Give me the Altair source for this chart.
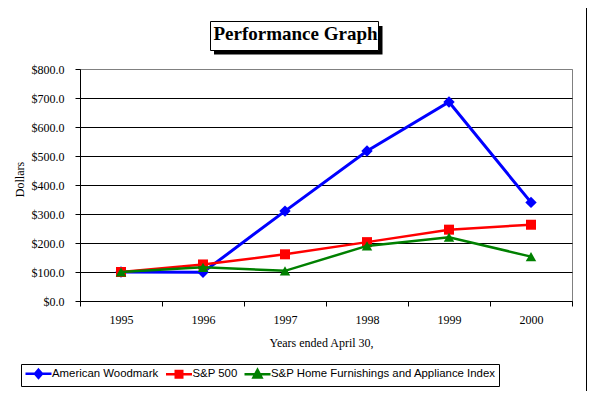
import altair as alt
import pandas as pd

years = ["1995", "1996", "1997", "1998", "1999", "2000"]
series_names = ["American Woodmark", "S&P 500", "S&P Home Furnishings and Appliance Index"]
woodmark = [100, 99, 310, 517, 686, 340]
sp500 = [100, 126, 161, 203, 246, 263]
home = [100, 116, 104, 190, 220, 153]
colors = ["#0000FF", "#FF0000", "#008000"]
shapes = ["diamond", "square", "triangle-up"]
# legend glyphs: a line with the series marker (unit = 5px)
legend_paths = [
    "M-2.6,0H2.6M0,-0.8L0.7,0L0,0.8L-0.7,0Z",
    "M-2.6,0H2.6M-0.65,-0.65H0.65V0.65H-0.65Z",
    "M-2.6,0H2.6M0,-0.85L0.8,0.65H-0.8Z",
]
y_ticks = [0, 100, 200, 300, 400, 500, 600, 700, 800]

rows = []
for name, vals in zip(series_names, [woodmark, sp500, home]):
    for yr, v in zip(years, vals):
        rows.append({"year": yr, "series": name, "value": v})
df = pd.DataFrame(rows)

W, H = 492, 232
SERIF = "Liberation Serif"
SANS = "Liberation Sans"

x_enc = alt.X(
    "year:O",
    scale=alt.Scale(type="band", domain=years, paddingInner=0, paddingOuter=0),
    bandPosition=0.5,
    title="Years ended April 30,",
    axis=alt.Axis(
        labelAngle=0, tickBand="extent", grid=False,
        domainColor="black", tickColor="black", tickSize=5,
        labelFont=SERIF, labelFontSize=12, labelColor="black",
        labelBaseline="alphabetic", labelPadding=17.5,
        titleFont=SERIF, titleFontSize=12, titleFontWeight="normal", titleColor="black",
        titleX=241, titleY=45.5, titleBaseline="alphabetic",
    ),
)
y_enc = alt.Y(
    "value:Q",
    scale=alt.Scale(domain=[0, 800], nice=False),
    title="Dollars",
    axis=alt.Axis(
        values=y_ticks, format="$.1f", grid=True,
        gridColor={"condition": {"test": "datum.value >= 800", "value": "#808080"}, "value": "black"},
        gridWidth=1, domainColor="black", tickColor="black", tickSize=5,
        labelFont=SERIF, labelFontSize=12, labelColor="black", labelPadding=11,
        titleFont=SERIF, titleFontSize=12, titleFontWeight="normal", titleColor="black",
        titleX=-57, titleY=110, titleBaseline="alphabetic", titleAngle=270,
    ),
)

one = alt.InlineData(values=[{"a": 1}])


def vrect(x1, x2, y1, y2, **kw):
    return alt.Chart(one).mark_rect(**kw).encode(
        x=alt.value(x1), x2=alt.value(x2), y=alt.value(y1), y2=alt.value(y2)
    )


layers = []
# black frame strip (right edge of the outer border, as far as the page allows)
layers.append(vrect(506, 520, -61, 330, color="black"))
layers.append(vrect(-72, 520, 322, 330, color="black"))
# title box with shadow
layers.append(vrect(134, 302.5, -43, -14.5, color="black"))
layers.append(vrect(130.5, 298.5, -47.5, -18.5, fill="white", stroke="black", strokeWidth=1))
layers.append(
    alt.Chart(one).mark_text(
        text="Performance Graph", font=SERIF, fontSize=19, fontWeight="bold",
        baseline="alphabetic", align="center", color="black",
    ).encode(x=alt.value(215.5), y=alt.value(-29.5))
)

widths = [3, 2.5, 2.5]
sizes = [130, 100, 110]
for name, c, shp, sw, sz in zip(series_names, colors, shapes, widths, sizes):
    base = alt.Chart(df).transform_filter(alt.datum.series == name)
    layers.append(base.mark_line(color=c, strokeWidth=sw).encode(x=x_enc, y=y_enc))
    layers.append(
        base.mark_point(shape=shp, filled=True, color=c, size=sz, opacity=1).encode(x=x_enc, y=y_enc)
    )

leg = alt.Legend(
    orient="none", legendX=-59, legendY=295, direction="horizontal",
    fillColor="white", strokeColor="black", padding=3,
    symbolSize=100, symbolStrokeWidth=2.5, symbolOffset=8,
    labelFont=SANS, labelFontSize=11.4, labelColor="black", labelOffset=7,
    columnPadding=1.5, labelLimit=400, cornerRadius=0,
)
legend_layer = alt.Chart(df).transform_filter("false").mark_point(
    filled=True, strokeWidth=2.5, size=100, opacity=1
).encode(
    fill=alt.Fill("series:N", scale=alt.Scale(domain=series_names, range=colors), legend=leg, title=None),
    stroke=alt.Stroke("series:N", scale=alt.Scale(domain=series_names, range=colors), legend=leg, title=None),
    shape=alt.Shape("series:N", scale=alt.Scale(domain=series_names, range=legend_paths), legend=leg, title=None),
)
layers.append(legend_layer)

chart = alt.layer(*layers).properties(
    width=W, height=H,
    autosize=alt.AutoSizeParams(type="none"),
    padding={"left": 72, "top": 61, "right": 15, "bottom": 90},
).configure(background="white").configure_view(stroke="#808080", strokeWidth=1)

chart.save("out.html", embed_options={"renderer": "svg", "actions": False})
